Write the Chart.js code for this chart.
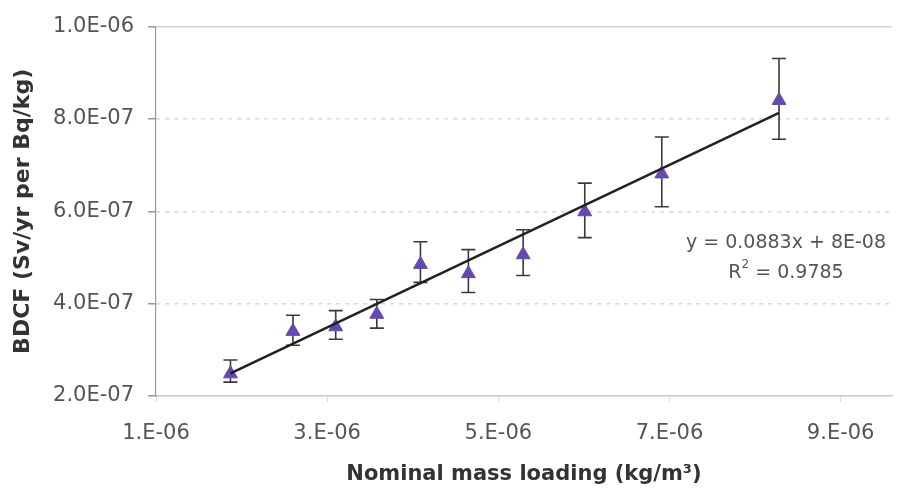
<!DOCTYPE html>
<html>
<head>
<meta charset="utf-8">
<script src="https://cdn.jsdelivr.net/npm/chart.js@4/dist/chart.umd.min.js"></script>
<style>
  html, body { margin: 0; padding: 0; background: #fff; }
  #wrap { width: 908px; height: 497px; }
</style>
</head>
<body>
<div id="wrap"><canvas id="myChart" width="908" height="497"></canvas></div>
<script>
// Measured points (nominal mass loading vs BDCF) with error bar ends
var massLoading = [1.87e-6, 2.60e-6, 3.10e-6, 3.58e-6, 4.09e-6, 4.65e-6, 5.29e-6, 6.01e-6, 6.91e-6, 8.28e-6];
var bdcf        = [2.48e-7, 3.40e-7, 3.50e-7, 3.77e-7, 4.85e-7, 4.65e-7, 5.06e-7, 5.99e-7, 6.81e-7, 8.40e-7];
var bdcfHigh    = [2.78e-7, 3.75e-7, 3.85e-7, 4.09e-7, 5.34e-7, 5.17e-7, 5.60e-7, 6.61e-7, 7.61e-7, 9.31e-7];
var bdcfLow     = [2.30e-7, 3.10e-7, 3.23e-7, 3.47e-7, 4.46e-7, 4.24e-7, 4.61e-7, 5.43e-7, 6.10e-7, 7.56e-7];

// Linear trend line end points
var trendX = [1.87e-6, 8.28e-6];
var trendY = [2.49e-7, 8.13e-7];

// Tick labels
var xTicks = [1e-6, 3e-6, 5e-6, 7e-6, 9e-6];
var yTicks = [2e-7, 4e-7, 6e-7, 8e-7, 1e-6];

var eqText = 'y = 0.0883x + 8E-08';
var r2Text = ' = 0.9785';

var FONT = "'DejaVu Sans', 'Liberation Sans', sans-serif";

function sci(v, digits) {
  var e = Math.floor(Math.log10(v) + 1e-9);
  var m = v / Math.pow(10, e);
  var ms = digits ? m.toFixed(digits) : Math.round(m) + '.';
  return ms + 'E' + (e < 0 ? '-' : '+') + String(Math.abs(e)).padStart(2, '0');
}

// error bars, drawn under the markers
var errorBars = {
  id: 'errorBars',
  beforeDatasetsDraw: function (chart) {
    var c = chart.ctx, xs = chart.scales.x, ys = chart.scales.y;
    c.save();
    c.strokeStyle = '#3a3a3a';
    c.lineWidth = 1.6;
    for (var i = 0; i < massLoading.length; i++) {
      var px = xs.getPixelForValue(massLoading[i]);
      var top = ys.getPixelForValue(bdcfHigh[i]);
      var bot = ys.getPixelForValue(bdcfLow[i]);
      c.beginPath();
      c.moveTo(px, top); c.lineTo(px, bot);
      c.moveTo(px - 7, top); c.lineTo(px + 7, top);
      c.moveTo(px - 7, bot); c.lineTo(px + 7, bot);
      c.stroke();
    }
    c.restore();
  }
};

// trend line equation and R squared
var eqLabel = {
  id: 'eqLabel',
  afterDraw: function (chart) {
    var c = chart.ctx, a = chart.chartArea;
    var cx = a.right - 106;
    c.save();
    c.fillStyle = '#555';
    c.font = '19px ' + FONT;
    c.textBaseline = 'middle';
    c.textAlign = 'center';
    c.fillText(eqText, cx, a.top + 216);
    // R^2 line with superscript
    var w1 = c.measureText('R').width;
    c.font = '12px ' + FONT;
    var w2 = c.measureText('2').width;
    c.font = '19px ' + FONT;
    var w3 = c.measureText(r2Text).width;
    var x0 = cx - (w1 + w2 + w3) / 2;
    var yy = a.top + 246;
    c.textAlign = 'left';
    c.fillText('R', x0, yy);
    c.font = '12px ' + FONT;
    c.fillText('2', x0 + w1, yy - 8);
    c.font = '19px ' + FONT;
    c.fillText(r2Text, x0 + w1 + w2, yy);
    c.restore();
  }
};

var ctx = document.getElementById('myChart').getContext('2d');

var points = massLoading.map(function (v, i) { return { x: v, y: bdcf[i] }; });
var trend = trendX.map(function (v, i) { return { x: v, y: trendY[i] }; });

var myChart = new Chart(ctx, {
  type: 'scatter',
  data: {
    datasets: [{
      label: 'BDCF',
      data: points,
      pointStyle: 'triangle',
      pointRadius: 8,
      backgroundColor: '#6548b0',
      borderColor: '#6548b0',
      borderWidth: 1,
      order: 2
    }, {
      label: 'Trend',
      type: 'line',
      data: trend,
      borderColor: '#222',
      borderWidth: 2.6,
      pointRadius: 0,
      fill: false,
      order: 1
    }]
  },
  options: {
    responsive: false,
    animation: false,
    layout: { padding: { top: 25, right: 16, left: 0, bottom: 0 } },
    plugins: { legend: { display: false }, tooltip: { enabled: false } },
    scales: {
      x: {
        type: 'linear',
        min: 1e-6,
        max: 9.6e-6,
        afterBuildTicks: function (s) { s.ticks = xTicks.map(function (v) { return { value: v }; }); },
        afterFit: function (s) { s.height = 101; },
        ticks: {
          color: '#555',
          font: { family: FONT, size: 21 },
          padding: 19,
          maxRotation: 0,
          callback: function (v) { return sci(v, 0); }
        },
        grid: { drawOnChartArea: false, tickLength: 6, tickColor: '#ddd', color: '#ddd' },
        border: { color: '#ccc', width: 1.5 },
        title: {
          display: true,
          text: 'Nominal mass loading (kg/m\u00b3)',
          color: '#333',
          font: { family: FONT, size: 21, weight: 'bold' },
          padding: { top: 0, bottom: 10 }
        }
      },
      y: {
        type: 'linear',
        min: 2e-7,
        max: 1e-6,
        afterBuildTicks: function (s) { s.ticks = yTicks.map(function (v) { return { value: v }; }); },
        afterFit: function (s) { s.width = 156; },
        ticks: {
          color: '#555',
          font: { family: FONT, size: 21 },
          padding: 14,
          callback: function (v) { return sci(v, 1); }
        },
        grid: {
          color: function (c) { return c.tick && c.tick.value > 9.9e-7 ? '#d4d4d4' : '#d8d8d8'; },
          lineWidth: 1.5,
          tickLength: 8,
          tickColor: '#999'
        },
        border: {
          color: '#999',
          width: 1.2,
          dash: function (c) { return c.tick && c.tick.value > 9.9e-7 ? [] : [4, 5]; }
        },
        title: {
          display: true,
          text: 'BDCF (Sv/yr per Bq/kg)',
          color: '#333',
          font: { family: FONT, size: 22, weight: 'bold' },
          padding: { top: 10, bottom: 0 }
        }
      }
    }
  },
  plugins: [errorBars, eqLabel]
});
</script>
</body>
</html>
